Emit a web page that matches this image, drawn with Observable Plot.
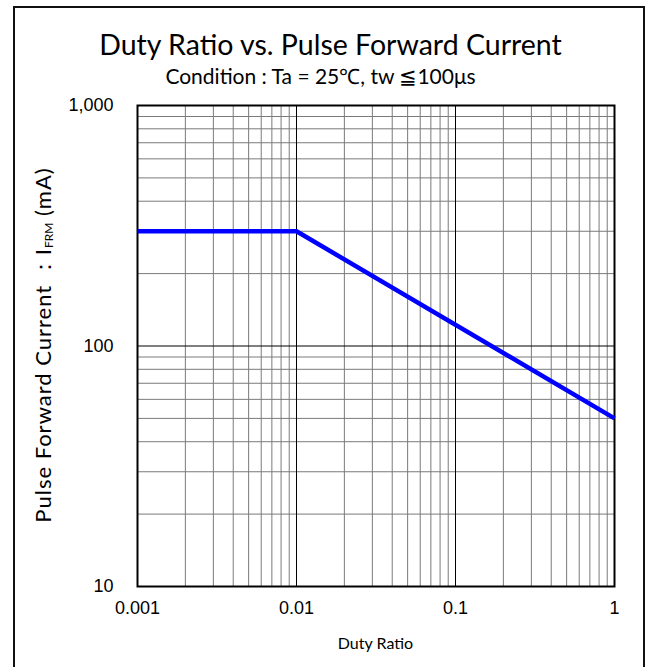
<!DOCTYPE html>
<html>
<head>
<meta charset="utf-8">
<script src="https://cdn.jsdelivr.net/npm/d3@7"></script>
<script src="https://cdn.jsdelivr.net/npm/@observablehq/plot@0.6"></script>
<style>
  html, body { margin: 0; padding: 0; background: #fff; }
  #wrap { position: relative; width: 649px; height: 667px; overflow: hidden; }
  #border { position: absolute; left: 13px; top: 6px; width: 632px; height: 700px; border: 2px solid #111; box-sizing: border-box; }
  .t { position: absolute; left: 0; width: 649px; text-align: center; font-family: Lato, "Open Sans", sans-serif; color: #000; white-space: nowrap; }
  #title { top: 27px; font-size: 28.5px; left: 6px; }
  #subtitle { top: 62px; font-size: 21px; left: -4px; }
  #xlabel { top: 633px; font-size: 16px; left: 51px; }
  #yanchor { position: absolute; left: 44px; top: 345px; width: 0; height: 0; }
  #ylabel { position: absolute; left: 0; top: 0; transform: translate(-50%, -50%) rotate(-90deg); font-family: Lato, "Open Sans", sans-serif; font-size: 22px; letter-spacing: 1px; white-space: nowrap; }
  #ylabel sub { font-size: 12px; vertical-align: -2px; letter-spacing: 0; }
  #chart { position: absolute; left: 0; top: 0; }
  #chart svg text { font-family: "Liberation Sans", Arial, Helvetica, sans-serif !important; }
</style>
</head>
<body>
<div id="wrap">
  <div id="chart"></div>
  <div id="border"></div>
  <div class="t" id="title">Duty Ratio vs. Pulse Forward Current</div>
  <div class="t" id="subtitle">Condition : Ta = 25℃, tw ≦100μs</div>
  <div class="t" id="xlabel">Duty Ratio</div>
  <div id="yanchor"><div id="ylabel">Pulse Forward Current ：I<sub>FRM</sub> (mA)</div></div>
</div>
<script>
// Data
const dutyRatio = [0.001, 0.01, 1];
const pulseCurrent = [300, 300, 50];

// Axis ticks and labels
const xTicks = [0.001, 0.01, 0.1, 1];
const xTickLabels = ["0.001", "0.01", "0.1", "1"];
const yTicks = [10, 100, 1000];
const yTickLabels = ["10", "100", "1,000"];
const multiples = [2, 3, 4, 5, 6, 7, 8, 9];

const xMinor = xTicks.slice(0, -1).flatMap(d => multiples.map(m => d * m));
const yMinor = yTicks.slice(0, -1).flatMap(d => multiples.map(m => d * m));

const data = dutyRatio.map((d, i) => ({x: d, y: pulseCurrent[i]}));

const tickFont = '"Liberation Sans", Arial, Helvetica, sans-serif';

const chart = Plot.plot({
  width: 649,
  height: 667,
  marginLeft: 137,
  marginRight: 35,
  marginTop: 105,
  marginBottom: 81,
  style: {fontFamily: tickFont, background: "transparent"},
  x: {type: "log", domain: [0.001, 1]},
  y: {type: "log", domain: [10, 1000]},
  marks: [
    Plot.ruleX(xMinor, {stroke: "#7a7a7a", strokeWidth: 1}),
    Plot.ruleY(yMinor, {stroke: "#7a7a7a", strokeWidth: 1}),
    Plot.ruleX(xTicks, {stroke: "#000", strokeWidth: 1}),
    Plot.ruleY(yTicks, {stroke: "#000", strokeWidth: 1}),
    Plot.frame({stroke: "#000", strokeWidth: 2}),
    Plot.line(data, {x: "x", y: "y", stroke: "#0000ff", strokeWidth: 4.5, strokeLinecap: "butt"}),
    Plot.axisX(xTicks, {tickSize: 0, tickPadding: 15, fontSize: 18, fontFamily: tickFont, label: null,
      tickFormat: d => xTickLabels[xTicks.indexOf(d)], fill: "#000"}),
    Plot.axisY(yTicks, {tickSize: 0, tickPadding: 24, fontSize: 18, fontFamily: tickFont, label: null,
      tickFormat: d => yTickLabels[yTicks.indexOf(d)], fill: "#000"})
  ]
});
document.getElementById("chart").appendChild(chart);
</script>
</body>
</html>
